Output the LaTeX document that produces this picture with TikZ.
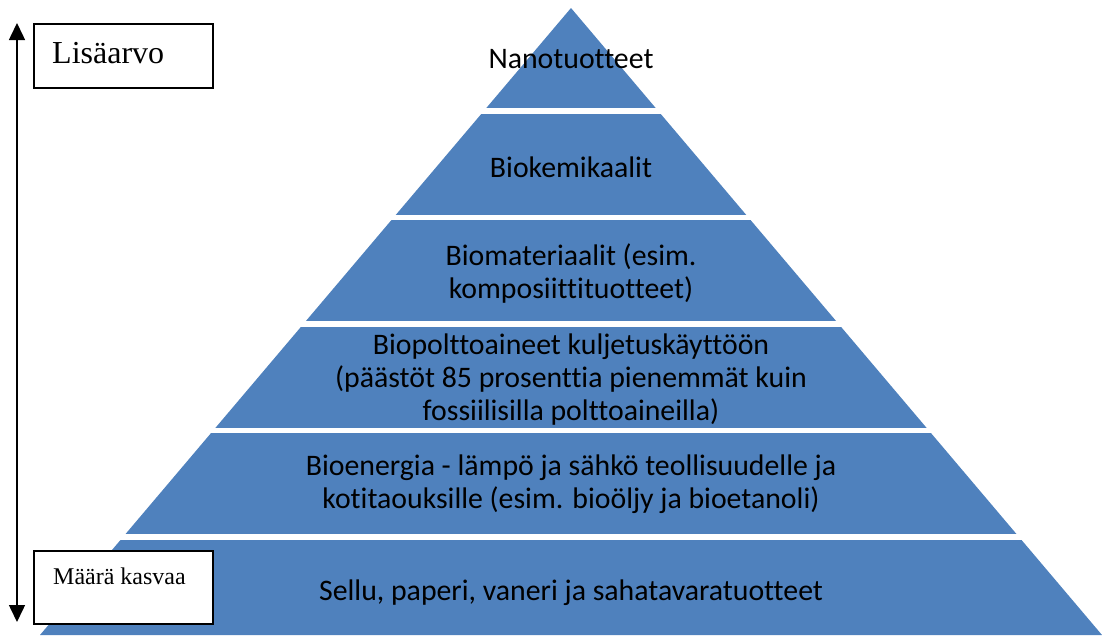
\documentclass[tikz,border=0pt]{standalone}
\usepackage{fontspec}
\setmainfont[Ligatures=NoCommon]{Carlito}
\newfontfamily\labelfont{Liberation Serif}
\usetikzlibrary{arrows.meta, calc}
\definecolor{layerblue}{HTML}{4F81BD}
\tikzstyle{layertext} = [text=black, align=center, font=\fontsize{29.8}{33}\selectfont, inner sep=0pt]
\tikzstyle{sidebox} = [draw=black, line width=1.5pt, fill=white, minimum width=179pt, inner sep=0pt]
\tikzset{scalearrow/.style={line width=1.5pt, arrows={Triangle[length=17pt,width=16pt]-Triangle[length=17pt,width=16pt]}}}

\begin{document}
\begin{tikzpicture}[x=1pt, y=-1pt]
        \useasboundingbox (0,0) rectangle (1102,635);

        % pyramid and the gaps between its layers
        \fill[layerblue] (571,8) -- (40,635) -- (1102,635) -- cycle;
        \foreach \gy in {110.75, 217.25, 323.75, 430.25, 536.75}
            \draw[white, line width=5.5pt] (0,\gy) -- (1102,\gy);

        \node at (571,59) [layertext](nano) {Nanotuotteet};
        \node at (571,167) [layertext](kemi) {Biokemikaalit};
        \node at (571,274) [layertext](mater) {Biomateriaalit (esim.\\komposiittituotteet)};
        \node at (571,380) [layertext](poltto) {Biopolttoaineet kuljetusk\"aytt\"o\"on\\(p\"a\"ast\"ot 85 prosenttia pienemm\"at kuin\\fossiilisilla polttoaineilla)};
        \node at (571,484.5) [layertext](energia) {Bioenergia - l\"amp\"o ja s\"ahk\"o teollisuudelle ja\\kotitaouksille (esim. bio\"oljy ja bioetanoli)};
        \node at (571,593) [layertext](sellu) {Sellu, paperi, vaneri ja sahatavaratuotteet};

        % value / volume scale
        \coordinate (top) at (17,23);
        \coordinate (bot) at (17,622);
        \draw[scalearrow] (bot) -- (top);

        \node at (33,23) [sidebox, anchor=north west, minimum height=64pt](lisa) {};
        \node at (52,63) [anchor=base west, inner sep=0pt, font=\labelfont\fontsize{32}{36}\selectfont](lisatext) {Lis\"aarvo};
        \node at (33,550) [sidebox, anchor=north west, minimum height=73pt](maara) {};
        \node at (53,584) [anchor=base west, inner sep=0pt, font=\labelfont\fontsize{24}{28}\selectfont](maaratext) {M\"a\"ar\"a kasvaa};
    \end{tikzpicture}
\end{document}
